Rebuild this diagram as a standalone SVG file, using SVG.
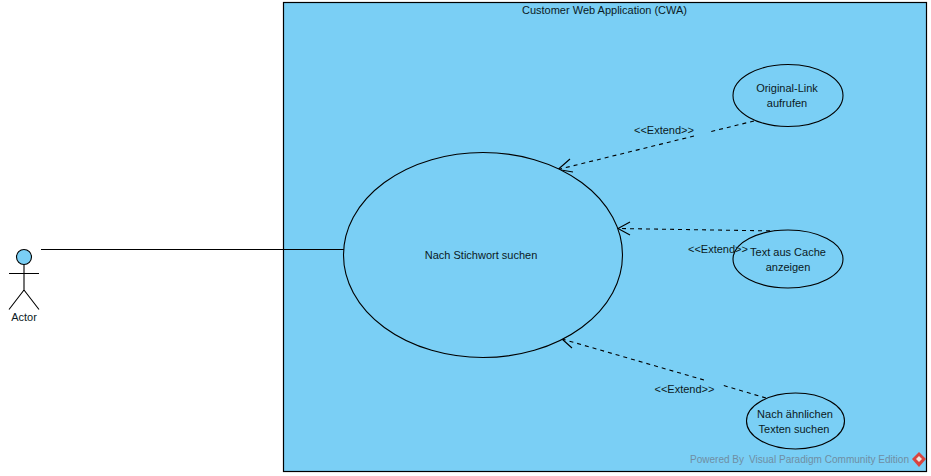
<svg xmlns="http://www.w3.org/2000/svg" width="931" height="476" viewBox="0 0 931 476">
<style>
text{font-family:"Liberation Sans",Arial,sans-serif;font-size:11px;fill:#0b1a24;text-anchor:middle}
.uc{fill:#7acff5;stroke:#000;stroke-width:1.100}
.ln{fill:none;stroke:#000;stroke-width:1.100}
.dash{fill:none;stroke:#000;stroke-width:1.100;stroke-dasharray:4 4}
.wm{fill:#6f8ea3;font-size:10.500px;text-anchor:start}
</style>
<rect width="931" height="476" fill="#fff"/>
<g id="system">
<rect x="283.500" y="2.500" width="643" height="469" fill="#7acff5" stroke="#000" stroke-width="1.200"/>
<text x="604.500" y="14">Customer Web Application (CWA)</text>
</g>
<g id="connectors">
<path class="ln" d="M41 249.500H344"/>
<path class="dash" d="M754 121L710 131.800M694 136L558 169.500"/>
<path class="ln" d="M570 159L558 169.500L573 172"/>
<path class="dash" d="M778 231L618 228.500"/>
<path class="ln" d="M630 222L618 228.500L630 235"/>
<path class="dash" d="M766 398L722 385M704 380L562 339"/>
<path class="ln" d="M571 334L562 339L572 348"/>
</g>
<g id="actor">
<circle class="uc" cx="24" cy="257" r="7.500"/>
<path class="ln" d="M24 264.500V290M9 273.500H39M24 290L9 309.500M24 290L39 309.500"/>
<text x="24" y="321">Actor</text>
</g>
<g id="uc-main">
<ellipse class="uc" cx="483" cy="255" rx="139.500" ry="102.500"/>
<text x="481" y="259">Nach Stichwort suchen</text>
</g>
<g id="uc-link">
<ellipse class="uc" cx="788" cy="95.500" rx="55" ry="31"/>
<text x="787" y="92">Original-Link</text>
<text x="787" y="107">aufrufen</text>
</g>
<g id="uc-cache">
<ellipse class="uc" cx="788" cy="259" rx="55" ry="29"/>
<text x="788" y="256">Text aus Cache</text>
<text x="788" y="271">anzeigen</text>
</g>
<g id="uc-similar">
<ellipse class="uc" cx="795.500" cy="421" rx="49" ry="28"/>
<text x="795" y="418">Nach ähnlichen</text>
<text x="794" y="433">Texten suchen</text>
</g>
<g id="labels">
<text x="664" y="134">&lt;&lt;Extend&gt;&gt;</text>
<text x="718" y="253">&lt;&lt;Extend&gt;&gt;</text>
<text x="684.500" y="393">&lt;&lt;Extend&gt;&gt;</text>
</g>
<g id="watermark">
<text class="wm" x="690" y="463" textLength="54" lengthAdjust="spacingAndGlyphs">Powered By</text>
<text class="wm" x="749" y="463" textLength="160" lengthAdjust="spacingAndGlyphs">Visual Paradigm Community Edition</text>
<path d="M919 452L926 459L919 467L912 459Z" fill="#d9443f"/>
<path d="M919 456L922 459L919 462L916 459Z" fill="#f2e6e0"/>
</g>
</svg>
